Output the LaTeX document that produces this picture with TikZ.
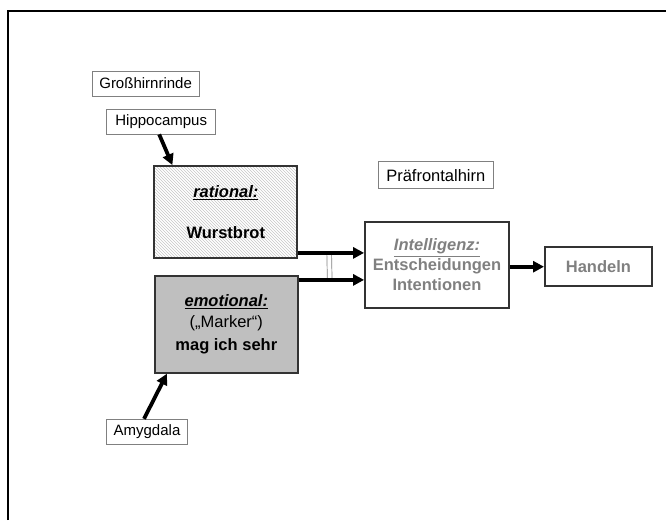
\documentclass[tikz,border=0pt]{standalone}
\usepackage{fontspec}
\setmainfont{Liberation Sans}
\usetikzlibrary{positioning,patterns,arrows.meta}

\begin{document}
\begin{tikzpicture}[x=1pt, y=-1pt, >={Triangle[length=11pt,width=11pt]},
  label box/.style={draw=gray, line width=0.8pt, fill=white, inner sep=0pt, font=\fontsize{15}{18}\selectfont},
  main box/.style={draw=black!80, line width=1.8pt, inner sep=0pt, align=center, font=\fontsize{16.5}{20}\selectfont\bfseries},
  flow/.style={->, line width=3.8pt}]

  \useasboundingbox (0,0) rectangle (666,520);

  % Frame
  \draw[line width=2pt] (8,520) -- (8,11) -- (666,11);

  % Define nodes
  \node[label box, minimum width=107, minimum height=25] (gross) at (145.6,83.4) {Großhirnrinde};
  \node[label box, minimum width=109, minimum height=25] (hip) at (161.2,121.5) {Hippocampus};
  \node[label box, minimum width=81, minimum height=25] (amy) at (147,431.7) {Amygdala};
  \node[label box, minimum width=115, minimum height=27, font=\fontsize{16.5}{20}\selectfont] (pfc) at (435.8,175.3) {Präfrontalhirn};

  \node[main box, minimum width=143, minimum height=92, pattern=north west lines, pattern color=gray!45] (rat) at (225.8,212)
    {\underline{\textit{rational:}}\\[21pt]Wurstbrot};
  \node[main box, minimum width=143, minimum height=97, fill=gray!50] (emo) at (226.3,324.3)
    {\underline{\textit{emotional:}}\\[1pt]{\mdseries („Marker“)}\\[3pt]mag ich sehr};
  \node[main box, minimum width=144, minimum height=86, text=black!50] (int) at (437,265)
    {\underline{\textit{Intelligenz:}}\\Entscheidungen\\Intentionen};
  \node[main box, minimum width=107, minimum height=39, text=black!50] (hand) at (598.4,266.7) {Handeln};

  \coordinate (r1) at ([yshift=6pt]rat.south east);
  \coordinate (e1) at ([yshift=-5pt]emo.north east);

  % Define edges
  \draw[double=white, double distance=4pt, draw=gray, line width=0.7pt] ([xshift=31pt]r1) -- ([xshift=31pt]e1);
  \path[flow]
    ([xshift=-2pt]hip.south) edge ([xshift=19pt]rat.north west)
    ([xshift=-3pt]amy.north) edge ([xshift=13pt]emo.south west)
    (r1) edge (r1 -| int.west)
    (e1) edge (e1 -| int.west)
    (int.east |- hand.west) edge (hand.west);
\end{tikzpicture}
\end{document}
